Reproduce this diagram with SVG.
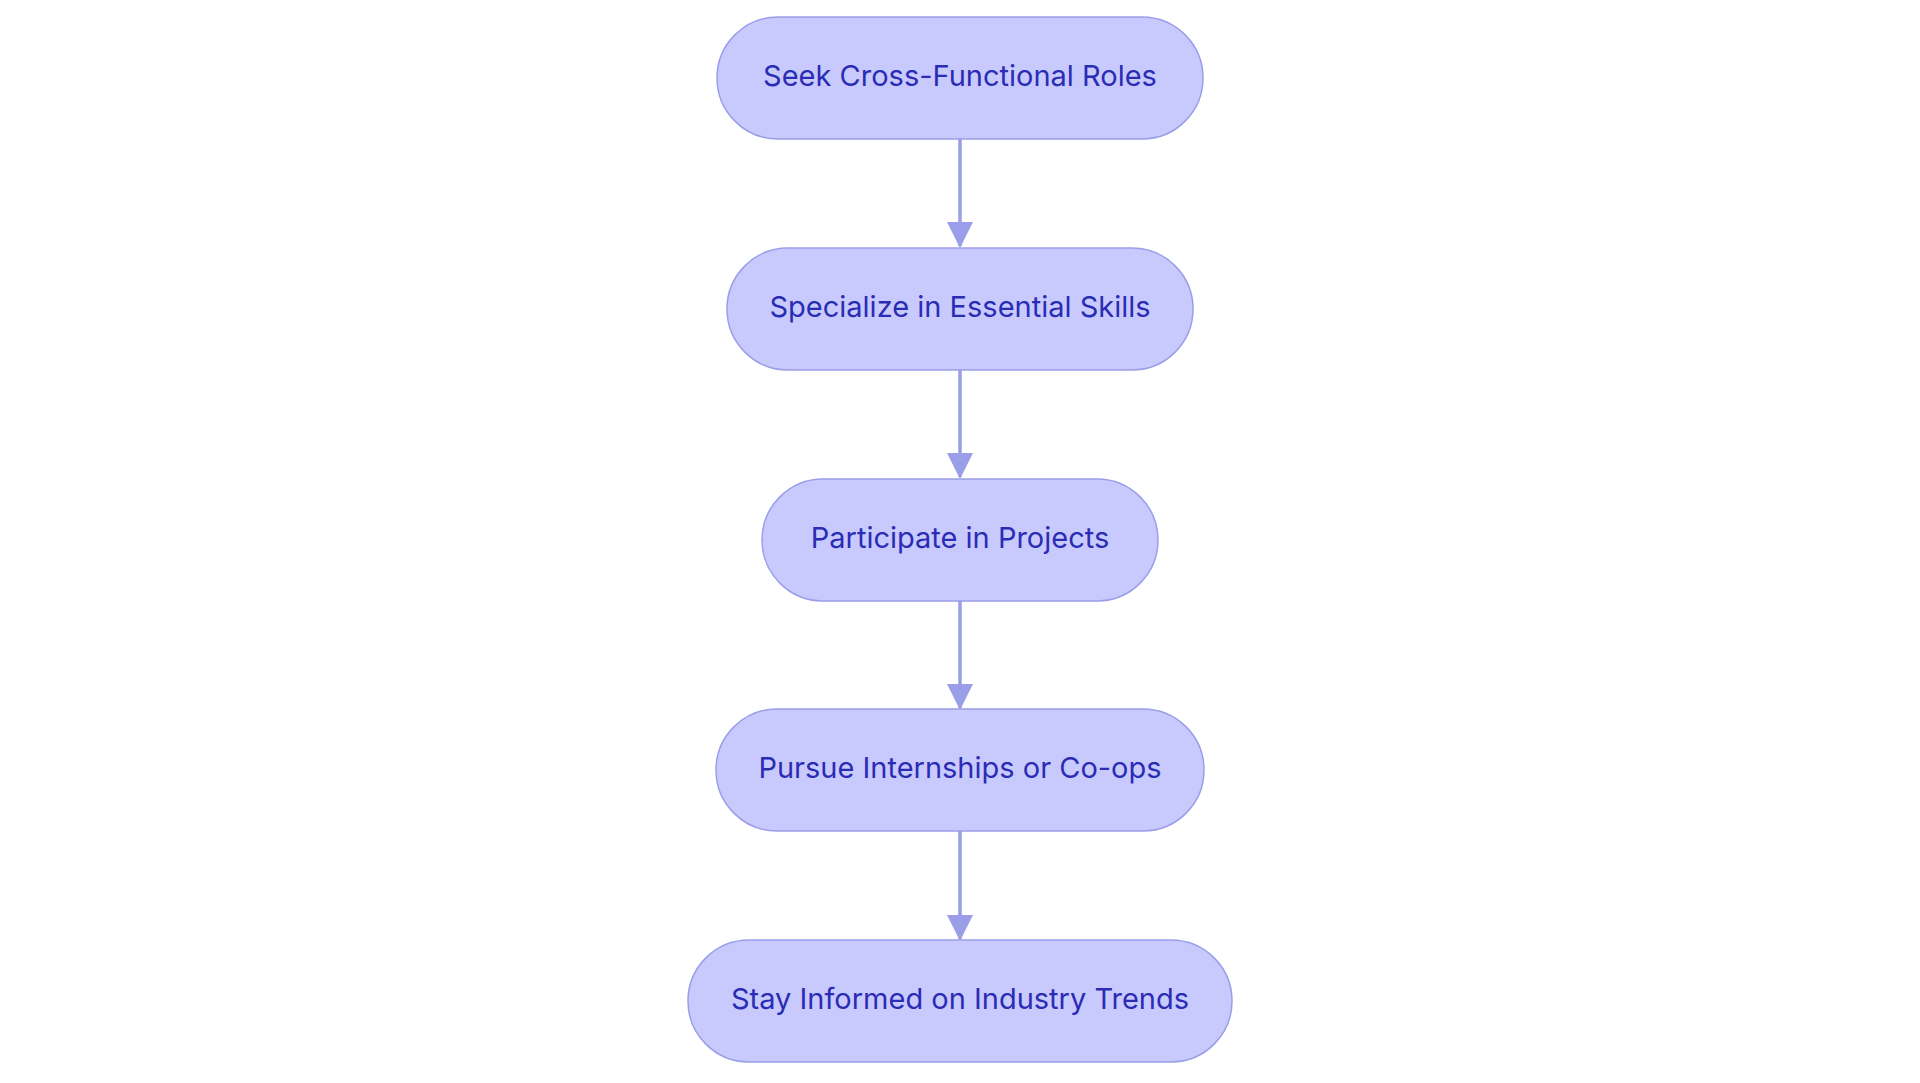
<svg xmlns="http://www.w3.org/2000/svg" width="1920" height="1083" viewBox="0 0 1920 1083">
<style>
.n{fill:#c8cafe;stroke:#9a9ee8;stroke-width:1.5}
.t{font-family:Inter,"Liberation Sans",sans-serif;font-size:29px;fill:#2b2cb4;text-anchor:middle;dominant-baseline:central}
.c{stroke:#9a9ee8;stroke-width:3.5;fill:none}
</style>
<defs><marker id="a" markerWidth="26" markerHeight="26" refX="24" refY="13" orient="auto" markerUnits="userSpaceOnUse" viewBox="0 0 26 26"><path d="M0,0L26,13L0,26z" fill="#9a9ee8"/></marker></defs>
<rect width="1920" height="1083" fill="#fff"/>
<g id="connectors">
<line class="c" x1="960" y1="139" x2="960" y2="246" marker-end="url(#a)"/>
<line class="c" x1="960" y1="370" x2="960" y2="477" marker-end="url(#a)"/>
<line class="c" x1="960" y1="600" x2="960" y2="708" marker-end="url(#a)"/>
<line class="c" x1="960" y1="831" x2="960" y2="939" marker-end="url(#a)"/>
</g>
<g id="n1"><rect class="n" x="717" y="17" width="486" height="122" rx="61"/><text class="t" x="960" y="75">Seek Cross-Functional Roles</text></g>
<g id="n2"><rect class="n" x="727" y="248" width="466" height="122" rx="61"/><text class="t" x="960" y="306">Specialize in Essential Skills</text></g>
<g id="n3"><rect class="n" x="762" y="479" width="396" height="122" rx="61"/><text class="t" x="960" y="537">Participate in Projects</text></g>
<g id="n4"><rect class="n" x="716" y="709" width="488" height="122" rx="61"/><text class="t" x="960" y="767">Pursue Internships or Co-ops</text></g>
<g id="n5"><rect class="n" x="688" y="940" width="544" height="122" rx="61"/><text class="t" x="960" y="998">Stay Informed on Industry Trends</text></g>
</svg>
